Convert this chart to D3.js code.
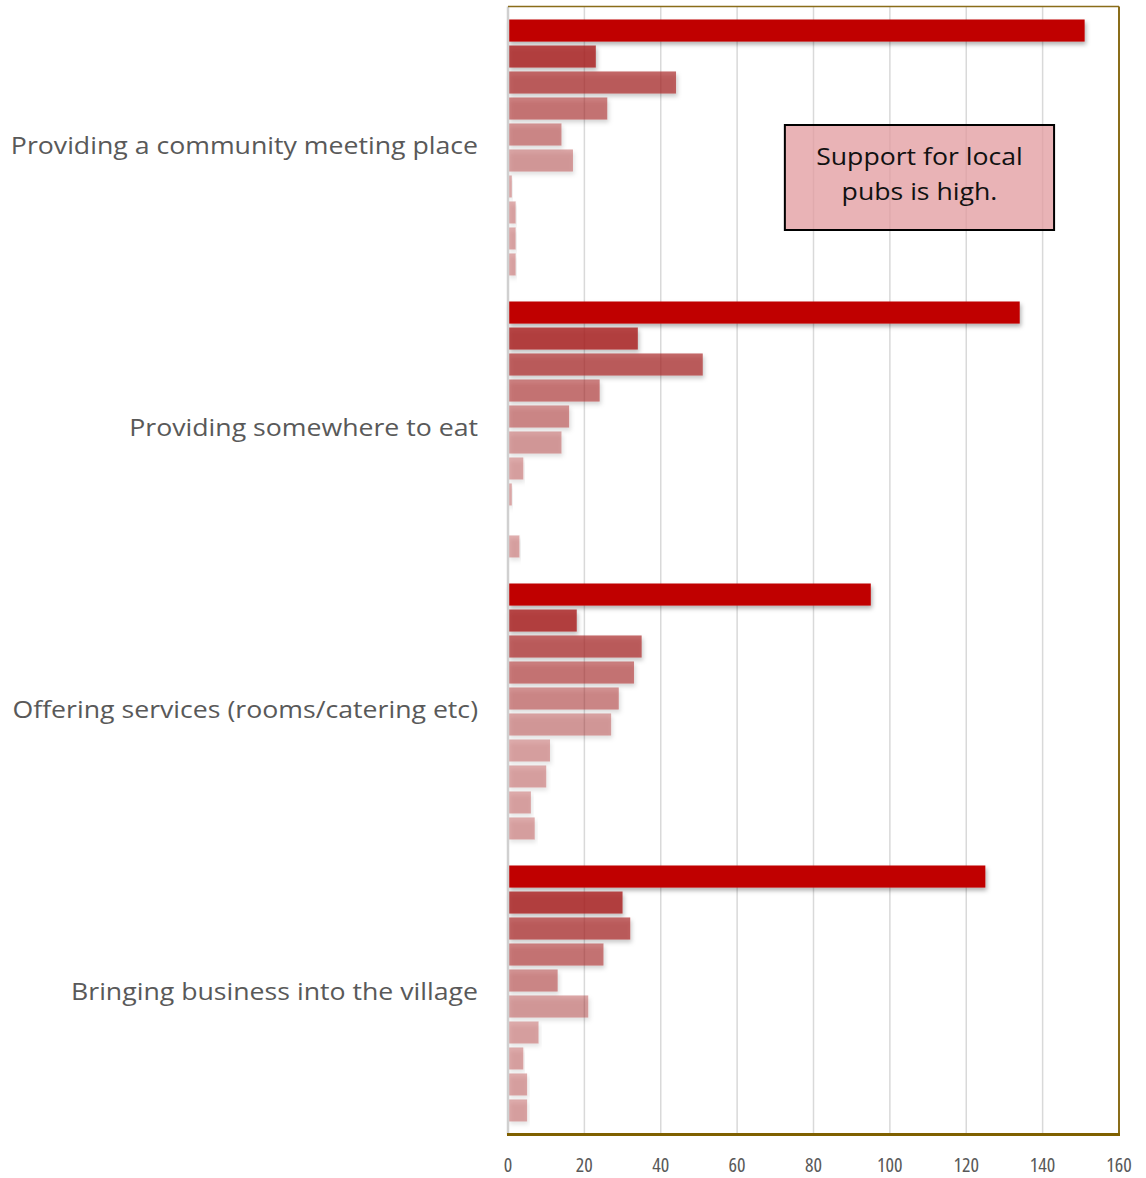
<!DOCTYPE html>
<html>
<head>
<meta charset="utf-8">
<script src="https://d3js.org/d3.v7.min.js"></script>
<style>
  body { margin: 0; background: #fff; }
  .cat-label { font-family: "Open Sans", sans-serif; font-size: 23.5px; fill: #595959; }
  .tick-label { font-family: "Open Sans", sans-serif; font-size: 20px; fill: #595959; font-stretch: condensed; }
  .note { font-family: "Open Sans", sans-serif; font-size: 24px; fill: #111; }
</style>
</head>
<body>
<div id="chart"></div>
<script>
// categories, top to bottom
var categories = [
    "Providing a community meeting place",
    "Providing somewhere to eat",
    "Offering services (rooms/catering etc)",
    "Bringing business into the village"
];

// ten response bars per category (top bar first)
var communityMeeting = [151, 23, 44, 26, 14, 17, 1, 2, 2, 2];
var somewhereToEat   = [134, 34, 51, 24, 16, 14, 4, 1, 0, 3];
var offeringServices = [95, 18, 35, 33, 29, 27, 11, 10, 6, 7];
var bringingBusiness = [125, 30, 32, 25, 13, 21, 8, 4, 5, 5];

var seriesKeys = ["r1", "r2", "r3", "r4", "r5", "r6", "r7", "r8", "r9", "r10"];
var seriesFill = ["#c00000", "#a82222", "#a82222", "#a82222", "#a82222", "#a82222", "#a82222", "#a82222", "#a82222", "#a82222"];
var seriesOpacity = [1, 0.82, 0.68, 0.55, 0.47, 0.4, 0.35, 0.35, 0.35, 0.35];

var xTicks = [0, 20, 40, 60, 80, 100, 120, 140, 160];
var noteLines = ["Support for local", "pubs is high."];

var groupValues = [communityMeeting, somewhereToEat, offeringServices, bringingBusiness];

var dim = {
    width: 1146, height: 1178,
    plot: { left: 508, right: 1119, top: 6.5, bottom: 1134.5 },
    labelRight: 478,
    textWiden: 1.135
};

var svg = d3.select("#chart").append("svg")
        .attr("width", dim.width)
        .attr("height", dim.height);

var defs = svg.append("defs");
var shadow = defs.append("filter")
        .attr("id", "barShadow")
        .attr("x", "-5%").attr("y", "-30%")
        .attr("width", "115%").attr("height", "180%");
shadow.append("feDropShadow")
        .attr("dx", 1.5)
        .attr("dy", 3)
        .attr("stdDeviation", 2)
        .attr("flood-color", "#000")
        .attr("flood-opacity", 0.3);

var x = d3.scaleLinear()
        .domain([0, 160])
        .range([dim.plot.left, dim.plot.right]);

var y = d3.scaleBand()
        .domain(categories)
        .range([dim.plot.top, dim.plot.bottom]);

var yInner = d3.scaleBand()
        .domain(seriesKeys)
        .range([0, y.bandwidth()])
        .paddingInner(0.15)
        .paddingOuter(0.5);

// gridlines
svg.append("g")
        .attr("class", "grid")
    .selectAll("line")
    .data(xTicks.slice(1, -1))
    .enter().append("line")
        .attr("x1", function(d) { return x(d); })
        .attr("x2", function(d) { return x(d); })
        .attr("y1", dim.plot.top)
        .attr("y2", dim.plot.bottom)
        .attr("stroke", "#d9d9d9")
        .attr("stroke-width", 1.5);

// annotation box
var noteX0 = x(72.5), noteX1 = x(143);
var note = svg.append("g").attr("class", "note-box");
note.append("rect")
        .attr("x", noteX0)
        .attr("y", 125)
        .attr("width", noteX1 - noteX0)
        .attr("height", 105)
        .attr("fill", "#e29a9e")
        .attr("fill-opacity", 0.75)
        .attr("stroke", "#000")
        .attr("stroke-width", 2);
note.selectAll("text")
    .data(noteLines)
    .enter().append("text")
        .attr("class", "note")
        .attr("transform", function(d, i) {
            return "translate(" + (noteX0 + noteX1) / 2 + "," + (165 + i * 35) + ") scale(1.11,1)";
        })
        .attr("text-anchor", "middle")
        .text(function(d) { return d; });

// bars
var groups = svg.append("g")
        .attr("class", "bars")
    .selectAll("g")
    .data(categories)
    .enter().append("g")
        .attr("transform", function(d) { return "translate(0," + y(d) + ")"; });

groups.selectAll("rect")
    .data(function(d, i) {
        return groupValues[i].map(function(v, j) { return { key: seriesKeys[j], value: v, idx: j }; });
    })
    .enter().append("rect")
        .filter(function(d) { return d.value > 0; })
        .attr("x", x(0))
        .attr("y", function(d) { return yInner(d.key); })
        .attr("width", function(d) { return x(d.value) - x(0); })
        .attr("height", yInner.bandwidth())
        .attr("fill", function(d) { return seriesFill[d.idx]; })
        .attr("fill-opacity", function(d) { return seriesOpacity[d.idx]; })
        .attr("filter", "url(#barShadow)");

// category labels
svg.append("g")
        .attr("class", "y labels")
    .selectAll("text")
    .data(categories)
    .enter().append("text")
        .attr("class", "cat-label")
        .attr("transform", function(d) {
            return "translate(" + dim.labelRight + "," + (y(d) + y.bandwidth() / 2 + 6) + ") scale(" + dim.textWiden + ",1)";
        })
        .attr("text-anchor", "end")
        .text(function(d) { return d; });

// axis lines / border
svg.append("line")
        .attr("x1", x(0)).attr("x2", x(0))
        .attr("y1", dim.plot.top).attr("y2", dim.plot.bottom)
        .attr("stroke", "#d0d0d0")
        .attr("stroke-width", 2.5);
svg.append("line")
        .attr("x1", x(0)).attr("x2", dim.plot.right)
        .attr("y1", dim.plot.top).attr("y2", dim.plot.top)
        .attr("stroke", "#8a6d1a")
        .attr("stroke-width", 1.5);
svg.append("line")
        .attr("x1", dim.plot.right).attr("x2", dim.plot.right)
        .attr("y1", dim.plot.top).attr("y2", dim.plot.bottom)
        .attr("stroke", "#8a6d1a")
        .attr("stroke-width", 2);
svg.append("line")
        .attr("x1", x(0) - 1).attr("x2", dim.plot.right + 1)
        .attr("y1", dim.plot.bottom).attr("y2", dim.plot.bottom)
        .attr("stroke", "#7f6000")
        .attr("stroke-width", 3);

// x tick labels
svg.append("g")
        .attr("class", "x labels")
    .selectAll("text")
    .data(xTicks)
    .enter().append("text")
        .attr("class", "tick-label")
        .attr("x", function(d) { return x(d); })
        .attr("y", 1172)
        .attr("text-anchor", "middle")
        .text(function(d) { return d; });
</script>
</body>
</html>
